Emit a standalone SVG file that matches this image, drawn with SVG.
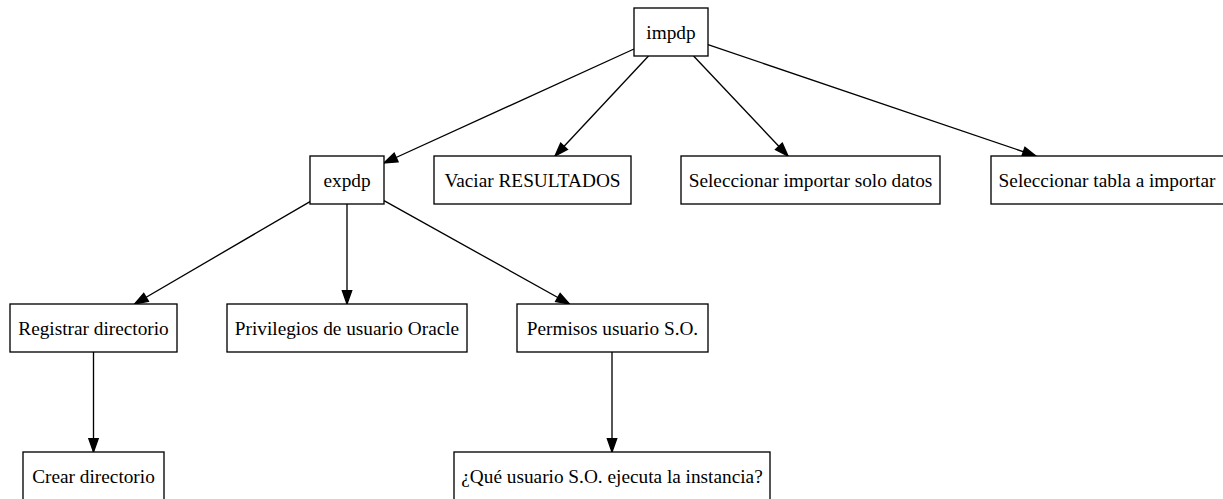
<svg xmlns="http://www.w3.org/2000/svg" width="1223" height="499" viewBox="0 0 1223 499">
<style>
.node rect{fill:#ffffff;stroke:#000000;stroke-width:1.33}
.node text{font-family:"Liberation Serif","Times New Roman",serif;font-size:19.3px;fill:#000000;text-anchor:middle}
.edges line{stroke:#000000;stroke-width:1.33;fill:none;marker-end:url(#arrow)}
</style>
<defs>
<marker id="arrow" markerUnits="userSpaceOnUse" markerWidth="14" markerHeight="10" refX="13.3" refY="4.67" orient="auto" overflow="visible">
<path d="M0,0 L13.3,4.67 L0,9.33 Z" fill="#000000" stroke="#000000" stroke-width="1.33"/>
</marker>
</defs>
<rect width="1223" height="499" fill="#ffffff"/>
<g id="edges" class="edges">
<line x1="634" y1="49" x2="384" y2="163"/>
<line x1="648.5" y1="56" x2="555" y2="156"/>
<line x1="693.6" y1="56" x2="788" y2="156"/>
<line x1="708" y1="44.6" x2="1036" y2="156"/>
<line x1="310" y1="201.6" x2="134.6" y2="304"/>
<line x1="347" y1="204" x2="347" y2="304"/>
<line x1="384" y1="200.6" x2="569.5" y2="304"/>
<line x1="93.5" y1="352" x2="93.5" y2="452"/>
<line x1="612" y1="352" x2="612" y2="452"/>
</g>
<g id="impdp" class="node"><rect x="634" y="8" width="74" height="48"/><text x="671" y="38.5">impdp</text></g>
<g id="expdp" class="node"><rect x="310" y="156" width="74" height="48"/><text x="347" y="186.5">expdp</text></g>
<g id="vaciar" class="node"><rect x="434" y="156" width="197" height="48"/><text x="532.5" y="186.5">Vaciar RESULTADOS</text></g>
<g id="sel_datos" class="node"><rect x="681" y="156" width="259" height="48"/><text x="810.5" y="186.5">Seleccionar importar solo datos</text></g>
<g id="sel_tabla" class="node"><rect x="991" y="156" width="233" height="48"/><text x="1107" y="186.5">Seleccionar tabla a importar</text></g>
<g id="registrar" class="node"><rect x="10" y="304" width="167" height="48"/><text x="93.5" y="334.5">Registrar directorio</text></g>
<g id="privilegios" class="node"><rect x="227" y="304" width="240" height="48"/><text x="347" y="334.5">Privilegios de usuario Oracle</text></g>
<g id="permisos" class="node"><rect x="517" y="304" width="191" height="48"/><text x="612.5" y="334.5">Permisos usuario S.O.</text></g>
<g id="crear" class="node"><rect x="23" y="452" width="141" height="48"/><text x="93.5" y="482.5">Crear directorio</text></g>
<g id="que_usuario" class="node"><rect x="454" y="452" width="316" height="48"/><text x="612" y="482.5">¿Qué usuario S.O. ejecuta la instancia?</text></g>
</svg>
